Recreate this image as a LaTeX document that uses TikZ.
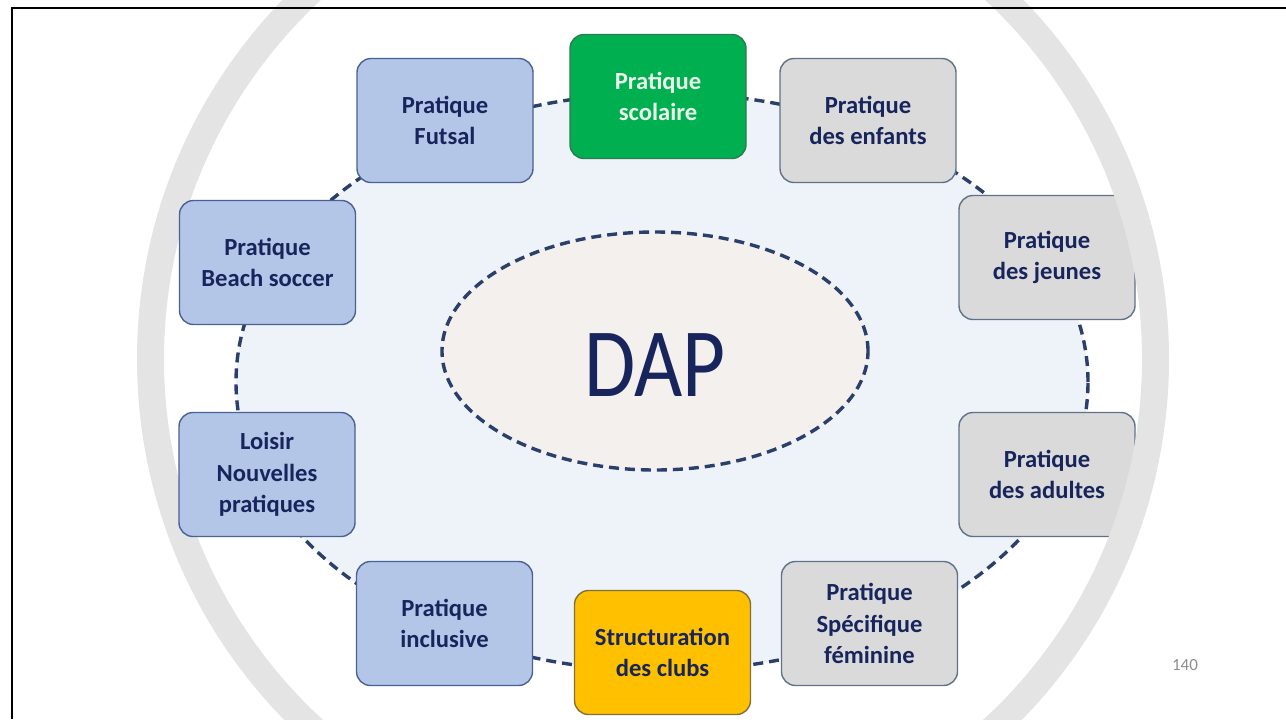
\documentclass[tikz,border=0pt]{standalone}
\usepackage{fontspec}
\setmainfont{Carlito}
\usetikzlibrary{shapes.geometric}
\definecolor{navy}{HTML}{17255C}
\definecolor{dashc}{HTML}{2B3F6B}
\definecolor{ringc}{HTML}{E4E4E4}
\definecolor{cycfill}{HTML}{EEF2F9}
\definecolor{dapfill}{HTML}{F3F0EE}
\definecolor{boxblue}{HTML}{B4C6E7}
\definecolor{boxblueb}{HTML}{4A6194}
\definecolor{boxgrey}{HTML}{DADADA}
\definecolor{boxgreyb}{HTML}{5F7287}
\definecolor{boxgreen}{HTML}{00B050}
\definecolor{boxgreenb}{HTML}{2F7A50}
\definecolor{greentext}{HTML}{EAF6EA}
\definecolor{boxyellow}{HTML}{FFC000}
\definecolor{boxyellowb}{HTML}{7F7040}
\definecolor{pagegrey}{HTML}{8C8C8C}
\tikzset{
  dashline/.style={draw=dashc, line width=1.7pt, dash pattern=on 5pt off 3pt},
  cbox/.style={rounded corners=7pt, minimum width=88pt, minimum height=62pt,
    align=center, inner sep=0pt, line width=0.7pt,
    font=\bfseries\fontsize{12.3}{15.8}\selectfont},
  bluebox/.style={cbox, fill=boxblue, draw=boxblueb, text=navy},
  greybox/.style={cbox, fill=boxgrey, draw=boxgreyb, text=navy},
  greenbox/.style={cbox, fill=boxgreen, draw=boxgreenb, text=greentext},
  yellowbox/.style={cbox, fill=boxyellow, draw=boxyellowb, text=navy},
}
\begin{document}
\begin{tikzpicture}[x=0.5pt,y=-0.5pt]
\useasboundingbox (0,0) rectangle (1286,719);
\begin{scope}
\clip (0,0) rectangle (1286,719);
% cycle ellipse
\node[ellipse, dashline, fill=cycfill, minimum width=426pt, minimum height=289pt, inner sep=0pt] (cyc) at (662,382) {};
% centre ellipse
\node[ellipse, dashline, fill=dapfill, minimum width=213pt, minimum height=119pt, inner sep=0pt] (dap) at (655,351) {};
\node[text=navy, font=\fontsize{49}{55}\selectfont, inner sep=0pt] (daplabel) at (655,365) {\scalebox{0.85}[1]{DAP}};
% right-hand boxes (the ring passes over them)
\node[greybox]   (enf)  at (868,120.5) {Pratique\\des enfants};
\node[greybox]   (jeu)  at (1047,257.5) {Pratique\\des jeunes};
\node[greybox]   (adu)  at (1047,474.5) {Pratique\\des adultes};
\node[greybox]   (fem)  at (869.5,623.5) {Pratique\\Spécifique\\féminine};
% grey ring
\fill[ringc, even odd rule] (653,359) circle[radius=516] (653,359) circle[radius=489];
% other boxes
\node[greenbox]  (scol) at (658,96.5)  {Pratique\\scolaire};
\node[yellowbox] (club) at (662.5,652.5) {Structuration\\des clubs};
\node[bluebox]   (incl) at (444.5,623.5) {Pratique\\inclusive};
\node[bluebox]   (lois) at (267,474.5) {Loisir\\Nouvelles\\pratiques};
\node[bluebox]   (beach) at (267.5,262.5) {Pratique\\Beach soccer};
\node[bluebox]   (fut)  at (445,120.5) {Pratique\\Futsal};
\end{scope}
\node[text=pagegrey, font=\fontsize{8.5}{10}\selectfont, inner sep=0pt] (page) at (1185,665) {140};
% frame
\draw[line width=1.3pt, black] (12,719) -- (12,8) -- (1286,8);
\end{tikzpicture}
\end{document}
